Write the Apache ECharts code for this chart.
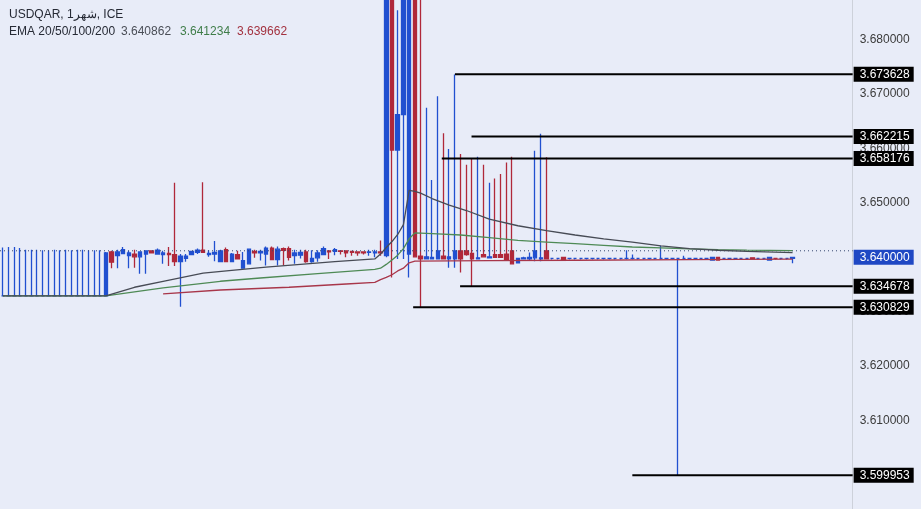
<!DOCTYPE html>
<html><head><meta charset="utf-8">
<script src="https://cdn.jsdelivr.net/npm/echarts@6/dist/echarts.min.js"></script>
<style>html,body{margin:0;padding:0;background:#e8ecf8;}#c{width:921px;height:509px;}</style>
</head><body><div id="c"></div>
<script>
// ---- data ----
// candle rows: [open, close, low, high]
const flatBars = [
 [3.6329,3.6329,3.6329,3.6418],[3.6329,3.6329,3.6329,3.6419],[3.6329,3.6329,3.6329,3.6419],
 [3.6329,3.6329,3.6329,3.6417],[3.6329,3.6329,3.6329,3.6414],[3.6329,3.6329,3.6329,3.6414],
 [3.6329,3.6329,3.6329,3.6414],[3.6329,3.6329,3.6329,3.6413],[3.6329,3.6329,3.6329,3.6413],
 [3.6329,3.6329,3.6329,3.6414],[3.6329,3.6329,3.6329,3.6413],[3.6329,3.6329,3.6329,3.6414],
 [3.6329,3.6329,3.6329,3.6413],[3.6329,3.6329,3.6329,3.6414],[3.6329,3.6329,3.6329,3.6414],
 [3.6329,3.6329,3.6329,3.6413],[3.6329,3.6329,3.6329,3.6413],[3.6329,3.6329,3.6329,3.6413]
];
const rangeBars = [
 [3.6329,3.6408,3.6329,3.6410],[3.6410,3.6391,3.6380,3.6412],[3.6403,3.6410,3.6380,3.6414],
 [3.6407,3.6414,3.6406,3.6419],[3.6403,3.6408,3.6380,3.6412],[3.6406,3.6401,3.6381,3.6414],
 [3.6401,3.6410,3.6370,3.6411],[3.6406,3.6412,3.6370,3.6413],[3.6412,3.6408,3.6407,3.6413],
 [3.6406,3.6413,3.6405,3.6416],[3.6405,3.6408,3.6388,3.6412],[3.6407,3.6405,3.6384,3.6419],
 [3.6405,3.6392,3.6384,3.6537],[3.6392,3.6402,3.6309,3.6406],[3.6398,3.6402,3.6392,3.6406],
 [3.6405,3.6411,3.6405,3.6412],[3.6409,3.6413,3.6406,3.6416],[3.6413,3.6409,3.6408,3.6538],
 [3.6405,3.6407,3.6401,3.6413],[3.6406,3.6409,3.6393,3.6430],[3.6392,3.6412,3.6392,3.6414],
 [3.6414,3.6392,3.6392,3.6418],[3.6392,3.6406,3.6392,3.6408],[3.6405,3.6397,3.6397,3.6412],
 [3.6380,3.6394,3.6380,3.6410],[3.6388,3.6415,3.6388,3.6416],[3.6411,3.6408,3.6399,3.6414],
 [3.6408,3.6411,3.6394,3.6414],[3.6406,3.6417,3.6385,3.6420],[3.6417,3.6396,3.6395,3.6420],
 [3.6396,3.6415,3.6385,3.6420],[3.6416,3.6413,3.6385,3.6418],[3.6416,3.6400,3.6394,3.6420],
 [3.6403,3.6408,3.6388,3.6414],[3.6404,3.6409,3.6398,3.6414],[3.6410,3.6392,3.6390,3.6414],
 [3.6392,3.6398,3.6390,3.6413],[3.6399,3.6408,3.6392,3.6413],[3.6405,3.6416,3.6404,3.6420],
 [3.6412,3.6410,3.6397,3.6413],[3.6411,3.6414,3.6404,3.6417],[3.6412,3.6411,3.6405,3.6413],
 [3.6412,3.6408,3.6400,3.6413],[3.6411,3.6409,3.6403,3.6412],[3.6410,3.6408,3.6403,3.6411],
 [3.6410,3.6408,3.6405,3.6411],[3.6409,3.6410,3.6403,3.6414],[3.6408,3.6410,3.6400,3.6414],
 [3.6410,3.6408,3.6403,3.6431]
];
const spikeBars = [
 [3.6403,3.7000,3.6400,3.7000],[3.7000,3.6597,3.6363,3.7000],[3.6597,3.6662,3.6397,3.6854],
 [3.6662,3.7000,3.6397,3.7000],[3.6406,3.7000,3.6363,3.7000],[3.7000,3.6401,3.6401,3.7000],
 [3.6402,3.6397,3.6308,3.7000],[3.6397,3.6401,3.6397,3.6675],[3.6397,3.6400,3.6396,3.6542],
 [3.6397,3.6412,3.6397,3.6696],[3.6402,3.6397,3.6397,3.6628],[3.6397,3.6401,3.6381,3.6599],
 [3.6397,3.6412,3.6381,3.6736],[3.6412,3.6397,3.6372,3.6590],[3.6412,3.6405,3.6403,3.6570],
 [3.6407,3.6397,3.6347,3.6582],[3.6397,3.6399,3.6396,3.6585],[3.6405,3.6401,3.6400,3.6570],
 [3.6399,3.6401,3.6398,3.6537],[3.6405,3.6400,3.6399,3.6545],[3.6405,3.6400,3.6399,3.6553],
 [3.6406,3.6395,3.6394,3.6574],[3.6412,3.6388,3.6387,3.6585],[3.6390,3.6398,3.6389,3.6399],
 [3.6397,3.6399,3.6396,3.6401],[3.6397,3.6400,3.6395,3.6409],[3.6399,3.6412,3.6393,3.6596],
 [3.6397,3.6399,3.6393,3.6627],[3.6412,3.6397,3.6396,3.6584]
];
const tailBars = [
 [3.6398,3.6398,3.6396,3.6398],[3.6398,3.6398,3.6396,3.6398],[3.6400,3.6396,3.6396,3.6400],
 [3.6398,3.6398,3.6396,3.6398],[3.6398,3.6398,3.6396,3.6398],[3.6398,3.6398,3.6396,3.6398],
 [3.6398,3.6398,3.6396,3.6398],[3.6398,3.6398,3.6396,3.6398],[3.6398,3.6398,3.6396,3.6398],
 [3.6398,3.6398,3.6396,3.6398],[3.6398,3.6398,3.6396,3.6398],[3.6398,3.6398,3.6396,3.6398],
 [3.6398,3.6398,3.6396,3.6398],[3.6398,3.6398,3.6396,3.6413],[3.6398,3.6398,3.6396,3.6405],
 [3.6398,3.6398,3.6396,3.6398],[3.6398,3.6398,3.6396,3.6398],[3.6398,3.6398,3.6396,3.6398],
 [3.6398,3.6398,3.6396,3.6398],[3.6398,3.6398,3.6396,3.6421],[3.6398,3.6398,3.6396,3.6398],
 [3.6398,3.6398,3.6396,3.6398],[3.6398,3.6398,3.599953,3.6398],[3.6398,3.6398,3.6396,3.6403],
 [3.6398,3.6398,3.6396,3.6398],[3.6398,3.6398,3.6396,3.6398],[3.6398,3.6398,3.6396,3.6398],
 [3.6398,3.6398,3.6396,3.6398],[3.6395,3.6400,3.6395,3.6400],[3.6400,3.6395,3.6395,3.6400],
 [3.6398,3.6398,3.6396,3.6398],[3.6398,3.6398,3.6396,3.6398],[3.6398,3.6398,3.6396,3.6398],
 [3.6398,3.6398,3.6396,3.6398],[3.6398,3.6398,3.6396,3.6398],[3.6399,3.6397,3.6396,3.6399],
 [3.6398,3.6398,3.6396,3.6398],[3.6398,3.6398,3.6396,3.6398],[3.6395,3.6400,3.6395,3.6400],
 [3.6398,3.6398,3.6396,3.6398],[3.6398,3.6398,3.6396,3.6398],[3.6398,3.6398,3.6396,3.6398],
 [3.6398,3.6400,3.6389,3.6400]
];
// EMA lines as [barIndex, value]
const ema20 = [[0,3.6329],[18,3.6329],[23,3.6345],[28,3.6356],[35,3.6371],[40,3.6376],[46,3.6382],[52,3.6387],[58,3.6392],[65,3.6397],[66,3.6406],[67,3.6418],[68,3.6429],[69,3.6442],[70,3.6460],[71,3.6523],[72,3.6521],[73,3.6518],[75,3.6508],[78,3.6496],[81,3.6486],[85,3.6470],[90,3.6458],[95,3.6449],[100,3.6441],[105,3.6434],[110,3.6428],[115,3.6421],[120,3.6416],[125,3.6413],[130,3.6411],[138,3.640862]];
const ema50 = [[0,3.6329],[18,3.6329],[28,3.6344],[38,3.6356],[45,3.6362],[55,3.6370],[65,3.6378],[66,3.6380],[67,3.6387],[68,3.6395],[69,3.6404],[70,3.6416],[71,3.6434],[72,3.6445],[76,3.6443],[80,3.6441],[85,3.6436],[90,3.6431],[95,3.6428],[100,3.6425],[105,3.6422],[110,3.6419],[115,3.64175],[120,3.64157],[125,3.64142],[130,3.64133],[138,3.641234]];
const ema100 = [[28,3.6333],[38,3.6340],[50,3.6345],[60,3.6351],[65,3.6354],[66,3.6359],[67,3.6363],[68,3.6368],[69,3.6375],[70,3.6380],[71,3.6390],[72,3.6393],[85,3.6394],[100,3.63946],[120,3.63957],[138,3.639662]];
// horizontal levels and where each starts (bar index)
const levels = [3.673628, 3.662215, 3.658176, 3.634678, 3.630829, 3.599953];
const levelStarts = [79.0, 81.9, 76.7, 79.9, 71.7, 110.0];
const lastPrice = 3.640000;
const dottedPrice = 3.6412;
const axisTicks = [3.60, 3.61, 3.62, 3.63, 3.64, 3.65, 3.66, 3.67, 3.68];
const titleLine1 = 'USDQAR, 1شهر, ICE';
const emaLabel = 'EMA 20/50/100/200';
const emaValues = ['3.640862', '3.641234', '3.639662'];

// ---- chart ----
const SLOTS = 149;
const categories = Array.from({length: SLOTS}, (_, i) => String(i));
const candles = [].concat(flatBars, rangeBars, spikeBars, tailBars);
const UP = '#2150d0', DOWN = '#b0283a';
const FONT = 'Liberation Sans, Arial, sans-serif';

const series = [
  {type:'candlestick', xAxisIndex:0, yAxisIndex:0, data:candles, barWidth:4, clip:true, z:2,
   itemStyle:{color:UP, color0:DOWN, borderColor:UP, borderColor0:DOWN, borderWidth:1.3}},
  {type:'line', xAxisIndex:1, data:[[-0.5, dottedPrice],[148.5, dottedPrice]], symbol:'none', silent:true, z:3,
   lineStyle:{color:'#34466e', width:1, type:[1,3]}},
  {type:'line', xAxisIndex:1, data:ema100, symbol:'none', silent:true, z:4, lineStyle:{color:'#a8364a', width:1.3}},
  {type:'line', xAxisIndex:1, data:ema50, symbol:'none', silent:true, z:4, lineStyle:{color:'#4e8a55', width:1.3}},
  {type:'line', xAxisIndex:1, data:ema20, symbol:'none', silent:true, z:4, lineStyle:{color:'#474b55', width:1.3}}
];
levels.forEach((v, i) => {
  series.push({type:'line', xAxisIndex:1, data:[[levelStarts[i], v],[148.5, v]], symbol:'none', silent:true, z:6,
    lineStyle:{color:'#000', width:2},
    endLabel:{show:true, formatter:() => v.toFixed(6), backgroundColor:'#000', color:'#fff', fontSize:12,
      fontFamily:FONT, padding:[2,4,1,6], distance:1}});
});
series.push({type:'line', xAxisIndex:1, data:[[148, lastPrice],[148.5, lastPrice]], symbol:'none', silent:true, z:6,
  lineStyle:{opacity:0},
  endLabel:{show:true, formatter:() => lastPrice.toFixed(6), backgroundColor:'#1f48c4', color:'#fff', fontSize:12,
    fontFamily:FONT, padding:[2,4,1,6], distance:1}});

const chart = echarts.init(document.getElementById('c'), null, {renderer:'canvas'});
chart.setOption({
  animation:false,
  backgroundColor:'#e8ecf8',
  textStyle:{fontFamily:FONT},
  title:[
    {text:titleLine1, left:9, top:9, padding:0, textStyle:{fontSize:12, fontWeight:'normal', color:'#262a35', fontFamily:FONT}},
    {text:emaLabel, left:9, top:26, padding:0, textStyle:{fontSize:12, fontWeight:'normal', color:'#262a35', fontFamily:FONT}},
    {text:emaValues[0], left:121, top:26, padding:0, textStyle:{fontSize:12, fontWeight:'normal', color:'#4a4e57', fontFamily:FONT}},
    {text:emaValues[1], left:180, top:26, padding:0, textStyle:{fontSize:12, fontWeight:'normal', color:'#3f7d49', fontFamily:FONT}},
    {text:emaValues[2], left:237, top:26, padding:0, textStyle:{fontSize:12, fontWeight:'normal', color:'#a3313f', fontFamily:FONT}}
  ],
  grid:{left:-0.66, top:0, width:853.3, height:509},
  xAxis:[
    {type:'category', data:categories, show:false, boundaryGap:true},
    {type:'value', min:-0.5, max:148.5, show:false}
  ],
  yAxis:{type:'value', position:'right', min:3.593762, max:3.687275,
    splitLine:{show:false}, axisTick:{show:false},
    axisLine:{show:true, onZero:false, lineStyle:{color:'#cdd1da', width:1}},
    axisLabel:{customValues:axisTicks, formatter:(v) => Number(v).toFixed(6), color:'#3b3b3b', fontSize:12, margin:7, fontFamily:FONT}},
  series:series
});
</script></body></html>
